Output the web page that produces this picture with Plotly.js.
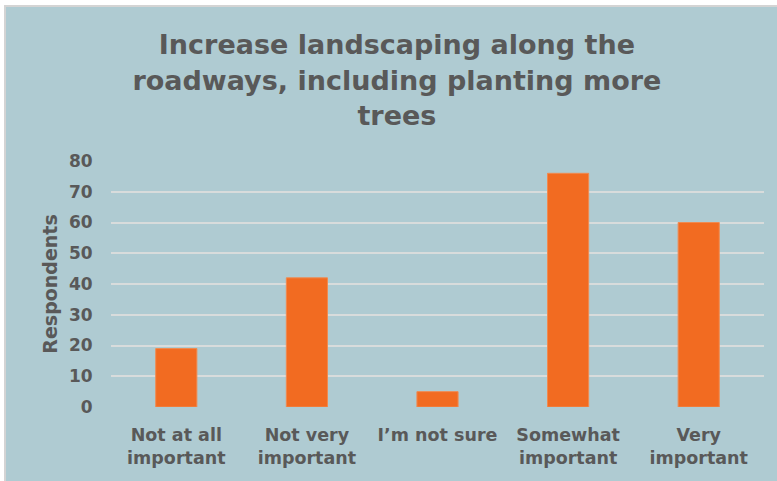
<!DOCTYPE html>
<html>
<head>
<meta charset="utf-8">
<script src="https://cdn.plot.ly/plotly-3.0.1.min.js"></script>
<style>
  html, body { margin: 0; padding: 0; background: #ffffff; width: 777px; height: 481px; overflow: hidden; }
  #chart { position: absolute; left: 4px; top: 5px; width: 771px; height: 474px;
           border-left: 2px solid #d4d4d4; border-top: 2px solid #d4d4d4; }
</style>
</head>
<body>
<div id="chart"></div>
<script>
const categories = ["Not at all<br>important", "Not very<br>important", "I\u2019m not sure", "Somewhat<br>important", "Very<br>important"];
const respondents = [19, 42, 5, 76, 60];
const yTickValues = [0, 10, 20, 30, 40, 50, 60, 70, 80];
const chartTitle = "Increase landscaping along the<br>roadways, including planting more<br>trees";
const yTitle = "Respondents";

const textColor = "#595959";
const fontFam = "'DejaVu Sans', 'Open Sans', sans-serif";

Plotly.newPlot("chart", [{
  type: "bar",
  x: categories,
  y: respondents,
  marker: { color: "#f26b21", line: { color: "#f08a50", width: 1 } },
  hoverinfo: "x+y"
}], {
  width: 771,
  height: 474,
  paper_bgcolor: "#afcbd2",
  plot_bgcolor: "rgba(0,0,0,0)",
  margin: { l: 105, r: 13, t: 154, b: 74 },
  bargap: 0.685,
  showlegend: false,
  title: {
    text: chartTitle,
    font: { family: fontFam, size: 27, color: textColor, weight: "bold" },
    xref: "container", x: 0.507, xanchor: "center",
    yref: "container", y: 0.900, yanchor: "top"
  },
  xaxis: {
    type: "category",
    showgrid: false, zeroline: false, showline: false,
    ticks: "outside", ticklen: 12, tickcolor: "rgba(0,0,0,0)",
    tickfont: { family: fontFam, size: 17.5, color: textColor, weight: "bold" },
    fixedrange: true
  },
  yaxis: {
    range: [0, 80],
    tickvals: yTickValues,
    showgrid: true, gridcolor: "#d8dcdc", gridwidth: 2,
    zeroline: false, showline: false,
    ticks: "outside", ticklen: 14, tickcolor: "rgba(0,0,0,0)",
    tickfont: { family: fontFam, size: 17, color: textColor, weight: "bold" },
    title: { text: yTitle, font: { family: fontFam, size: 19, color: textColor, weight: "bold" }, standoff: 6 },
    fixedrange: true
  }
}, { displayModeBar: false, staticPlot: true });
</script>
</body>
</html>
